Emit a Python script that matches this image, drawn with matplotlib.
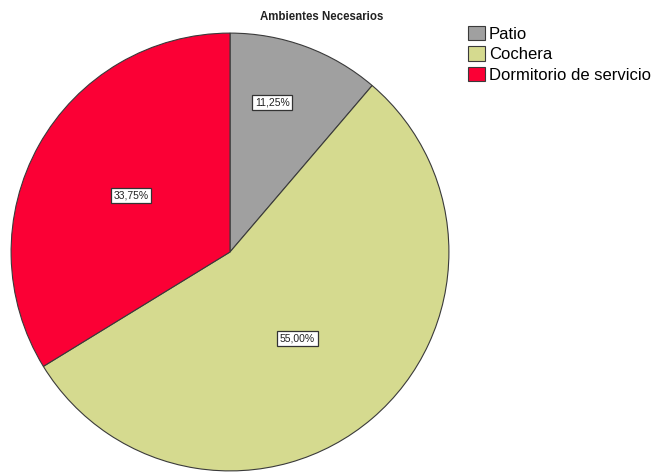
import numpy as np
import matplotlib.pyplot as plt

# Datos
categorias = ['Patio', 'Cochera', 'Dormitorio de servicio']
porcentajes = [11.25, 55.00, 33.75]
colores = ['#a0a0a0', '#d5da8f', '#fb0035']
# posición de cada etiqueta: fracción del radio y desvío angular (grados)
radio_etiqueta = [0.71, 0.50, 0.52]
desvio_etiqueta = [4.5, -2.5, -0.5]

plt.rcParams['font.family'] = ['Liberation Sans', 'DejaVu Sans']

fig = plt.figure(figsize=(6.54, 4.74), dpi=100)
ax = fig.add_axes([10 / 654, 2 / 474, 440 / 654, 440 / 474])

cunas, _ = ax.pie(porcentajes, colors=colores, startangle=90, counterclock=False,
                  radius=1, wedgeprops=dict(edgecolor='#3a3a3a', linewidth=0.8))
ax.set_xlim(-1.005, 1.005)
ax.set_ylim(-1.005, 1.005)
ax.set_aspect('auto')
ax.axis('off')

# Etiquetas de porcentaje en cada sector
for cuna, p, r, d in zip(cunas, porcentajes, radio_etiqueta, desvio_etiqueta):
    ang = np.deg2rad((cuna.theta1 + cuna.theta2) / 2 + d)
    texto = f'{p:.2f}%'.replace('.', ',')
    ax.text(r * np.cos(ang), r * np.sin(ang), texto, ha='center', va='center',
            fontsize=7.5, color='#222222',
            bbox=dict(boxstyle='square,pad=0.25', facecolor='white',
                      edgecolor='#333333', linewidth=0.9))

fig.text(322 / 654, 1 - 17 / 474, 'Ambientes Necesarios', ha='center', va='center',
         fontsize=8.3, fontweight='bold', color='#222222')

ley = fig.legend(cunas, categorias, loc='upper left', bbox_to_anchor=(468 / 654, 1 - 26 / 474),
                 frameon=False, fontsize=12, handlelength=1.0, handleheight=0.95,
                 handletextpad=0.25, labelspacing=0.27, borderaxespad=0, borderpad=0)

fig.savefig('out.png', dpi=100, facecolor='white')
